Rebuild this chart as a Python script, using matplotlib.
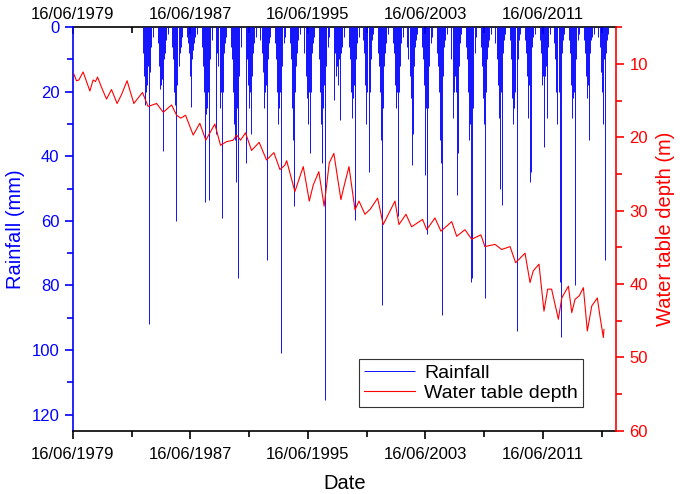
import pandas as pd
import matplotlib
matplotlib.use("Agg")
import matplotlib.pyplot as plt
import matplotlib.dates as mdates
from matplotlib.ticker import MultipleLocator

plt.rcParams['font.family'] = ['Liberation Sans', 'DejaVu Sans']

# rainfall: one row of readings per wet season (mm)
rain_season = list(range(1984, 2016))
rain_frac = [0.22, 0.30, 0.37, 0.44, 0.51, 0.58, 0.65, 0.72, 0.80, 0.90]
rain_mm = [
    [8, 15, 24, 20, 18, 12, 92, 14, 6, 3],
    [5, 12, 19, 18, 16, 38.5, 10, 8, 4, 2],
    [6, 10, 20, 24, 60, 18, 12, 8, 6, 3],
    [3, 5, 8, 15, 24.6, 10, 7, 5, 3, 2],
    [6, 12, 20, 54, 27, 25, 20, 53.5, 10, 4],
    [33, 8, 12, 25, 20, 59, 20, 8, 5, 3],
    [6, 10, 20, 30, 35, 48, 25, 77.6, 15, 6],
    [42, 10, 18, 25, 20, 33, 15, 8, 5, 3],
    [4, 8, 14, 25, 20, 18, 72, 10, 5, 3],
    [5, 10, 20, 30, 25, 20, 101, 12, 5, 3],
    [5, 10, 25, 35, 55.5, 20, 12, 8, 4, 2],
    [8, 15, 22, 30, 20, 39, 20, 8, 5, 3],
    [10, 20, 30, 42, 25, 18, 115.5, 12, 6, 3],
    [22.5, 8, 15, 12, 18, 10, 28.7, 8, 6, 3],
    [6, 10, 20, 28, 22, 18, 59.6, 10, 5, 3],
    [4, 8, 18, 30, 20, 45, 20, 10, 4, 2],
    [8, 12, 20, 35, 86, 25, 12, 8, 5, 2],
    [5, 8, 18, 25, 20, 58.6, 20, 12, 5, 3],
    [6, 10, 15, 22, 42.6, 33, 12, 6, 4, 2],
    [6, 10, 18, 45.7, 25, 64, 25, 12, 5, 3],
    [8, 12, 20, 35, 42, 89, 15, 6, 4, 2],
    [10, 28, 20, 15, 20, 52, 39, 12, 5, 2],
    [6, 10, 20, 35, 30, 79, 77.6, 25, 8, 3],
    [6, 12, 22, 30, 84, 20, 10, 6, 4, 2],
    [5, 10, 18, 28, 50, 20, 55, 8, 4, 2],
    [4, 10, 22, 30, 25, 20, 94, 10, 4, 2],
    [4, 8, 15, 28, 18, 48, 45, 6, 3, 2],
    [4, 8, 18, 15, 37, 15, 12, 28, 6, 2],
    [5, 10, 20, 30, 20, 79, 96, 8, 4, 2],
    [4, 8, 18, 28, 22, 20, 80, 10, 4, 2],
    [4, 8, 15, 22, 18, 35, 8, 4, 3, 2],
    [3, 6, 14, 20, 30, 10, 72, 8, 4, 2],
]

# water table depth (m), decimal year
wt_year = [1979.53, 1979.71, 1979.87, 1980.16, 1980.62, 1980.84, 1981.00, 1981.14,
           1981.41, 1981.75, 1982.09, 1982.47, 1982.77, 1983.15, 1983.61, 1984.20,
           1984.58, 1985.16, 1985.61, 1986.18, 1986.52, 1986.81, 1987.13, 1987.65,
           1988.10, 1988.51, 1989.12, 1989.51, 1989.92, 1990.37, 1990.60, 1990.87,
           1991.21, 1991.62, 1992.14, 1992.64, 1993.14, 1993.55, 1993.89, 1994.01,
           1994.57, 1995.14, 1995.55, 1995.82, 1996.20, 1996.56, 1996.91, 1997.22,
           1997.70, 1997.86, 1998.25, 1998.66, 1998.93, 1999.34, 1999.70, 2000.20,
           2000.58, 2001.38, 2001.65, 2002.13, 2002.51, 2003.26, 2003.54, 2004.10,
           2004.51, 2005.24, 2005.58, 2006.14, 2006.60, 2007.23, 2007.50, 2008.19,
           2008.64, 2009.21, 2009.59, 2010.23, 2010.57, 2010.79, 2011.18, 2011.52,
           2011.77, 2012.04, 2012.50, 2012.73, 2013.18, 2013.41, 2013.63, 2013.92,
           2014.20, 2014.47, 2014.77, 2015.15, 2015.33, 2015.56, 2015.60]
wt_depth = [11.4, 12.3, 12.2, 11.1, 13.7, 12.2, 12.4, 11.8,
            13.2, 14.8, 13.5, 15.4, 14.2, 12.3, 15.4, 13.9,
            15.8, 15.4, 16.6, 15.6, 17.0, 17.4, 17.0, 19.7,
            18.1, 20.4, 18.2, 21.1, 20.6, 20.4, 19.7, 20.4,
            19.4, 21.8, 20.7, 23.1, 22.1, 24.4, 23.8, 23.2,
            27.4, 24.0, 28.7, 26.5, 24.7, 29.4, 23.5, 22.2,
            28.5, 27.1, 24.0, 29.9, 28.7, 30.5, 29.8, 28.3,
            31.9, 28.7, 31.9, 30.5, 32.2, 31.2, 32.6, 31.0,
            32.8, 31.5, 33.5, 32.6, 33.9, 33.3, 34.9, 34.6,
            35.3, 34.9, 37.1, 35.8, 39.8, 38.2, 37.3, 43.7,
            40.7, 40.7, 44.8, 41.9, 40.3, 43.9, 42.1, 41.6,
            40.5, 46.4, 43.0, 41.9, 44.4, 47.3, 46.2]

major_dates = ['1979-06-16', '1987-06-16', '1995-06-16', '2003-06-16', '2011-06-16']
minor_dates = ['1983-06-16', '1991-06-16', '1999-06-16', '2007-06-16', '2015-06-16']


def to_date(y):
    base = pd.Timestamp(int(y), 1, 1)
    return base + pd.Timedelta(days=(y - int(y)) * 365.25)


rain_t = []
rain_v = []
for yr, row in zip(rain_season, rain_mm):
    for f, v in zip(rain_frac, row):
        rain_t.append(to_date(yr + f))
        rain_v.append(v)
wt_t = [to_date(y) for y in wt_year]

blue = '#0000ff'
red = '#ff0000'

fig = plt.figure(figsize=(6.8, 4.94), dpi=100)
ax = fig.add_axes([0.107, 0.128, 0.799, 0.817])
ax.vlines(rain_t, 0, rain_v, color=blue, lw=0.65, label='Rainfall')
ax.set_ylim(125, 0)
ax.set_xlim(pd.Timestamp('1979-06-16'), pd.Timestamp('2016-06-05'))

ax2 = ax.twinx()
ax2.plot(wt_t, wt_depth, color=red, lw=0.8, label='Water table depth')
ax2.set_ylim(60, 5)

maj = [pd.Timestamp(d) for d in major_dates]
mnr = [pd.Timestamp(d) for d in minor_dates]
fmt = mdates.DateFormatter('%d/%m/%Y')
ax.set_xticks(maj)
ax.set_xticks(mnr, minor=True)
ax.xaxis.set_major_formatter(fmt)
ax.tick_params(axis='x', which='major', direction='out', length=6, width=1.2,
               labelsize=12, pad=6)
ax.tick_params(axis='x', which='minor', direction='out', length=4, width=1.2)

top = ax.secondary_xaxis('top')
top.set_xticks(maj)
top.set_xticks(mnr, minor=True)
top.xaxis.set_major_formatter(fmt)
top.tick_params(axis='x', which='major', direction='in', length=5, width=1.2,
                labelsize=12, pad=4)
top.tick_params(axis='x', which='minor', direction='in', length=4, width=1.2)
top.spines['top'].set_linewidth(1.2)

ax.yaxis.set_major_locator(MultipleLocator(20))
ax.yaxis.set_minor_locator(MultipleLocator(10))
ax.tick_params(axis='y', which='major', colors=blue, length=6, width=1.2, labelsize=12)
ax.tick_params(axis='y', which='minor', colors=blue, length=4, width=1.2)
ax.set_ylabel('Rainfall (mm)', color=blue, fontsize=14.5, labelpad=5)
ax.set_xlabel('Date', fontsize=14.5, labelpad=8)

ax2.yaxis.set_major_locator(MultipleLocator(10))
ax2.set_yticks([5, 15, 25, 35, 45, 55], minor=True)
ax2.tick_params(axis='y', which='major', colors=red, length=6, width=1.2, labelsize=12)
ax2.tick_params(axis='y', which='minor', colors=red, length=4, width=1.2)
ax2.set_ylabel('Water table depth (m)', color=red, fontsize=14.5, labelpad=6)

ax.spines['left'].set_color(blue)
ax.spines['right'].set_visible(False)
ax.spines['top'].set_visible(False)
for s in ['left', 'top', 'bottom']:
    ax2.spines[s].set_visible(False)
ax2.spines['right'].set_color(red)
for sp in [ax.spines['left'], ax.spines['bottom'], ax2.spines['right']]:
    sp.set_linewidth(1.2)

h1, l1 = ax.get_legend_handles_labels()
h2, l2 = ax2.get_legend_handles_labels()
leg = ax2.legend(h1 + h2, l1 + l2, loc='lower left', bbox_to_anchor=(0.527, 0.059),
                 fontsize=14, frameon=True, fancybox=False, framealpha=1,
                 edgecolor='#333333', borderaxespad=0, handlelength=2.6,
                 borderpad=0.25, labelspacing=0.15, handletextpad=0.5)
leg.get_frame().set_linewidth(0.8)

fig.savefig('out.png', dpi=100)
